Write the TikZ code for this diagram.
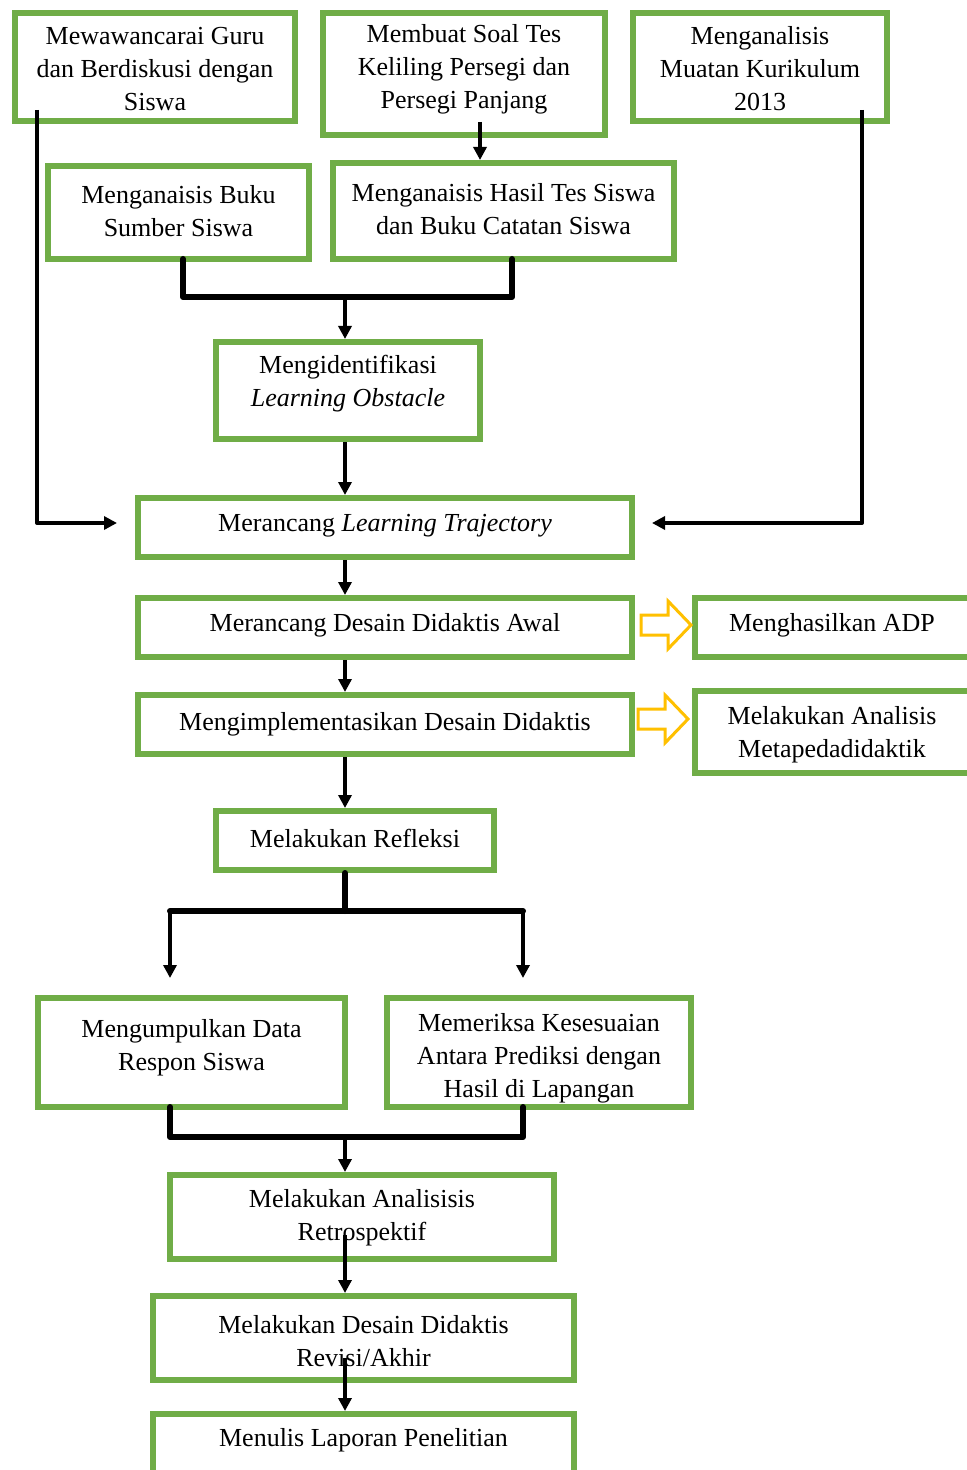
\documentclass[tikz,border=0pt]{standalone}
\usepackage{fontspec}
\setmainfont{Liberation Serif}
\usetikzlibrary{arrows.meta,calc}
\definecolor{boxgreen}{HTML}{70AD47}
\definecolor{arrowyellow}{HTML}{FFC000}
\newcommand\yelarrow[1]{\draw[hollow, shift={(#1)}] (0,-10) -- (27,-10) -- (27,-24) -- (50,0) -- (27,24) -- (27,10) -- (0,10) -- cycle;}
\begin{document}
\begin{tikzpicture}[x=0.5pt,y=-0.5pt,
 box/.style={draw=boxgreen, line width=3pt, inner sep=0pt, rectangle},
 txt/.style={align=center, font=\fontsize{13pt}{16.5pt}\selectfont, inner sep=0pt},
 conn/.style={line width=1.75pt, -{Triangle[length=6.5pt,width=6.5pt]}, line join=round},
 merge/.style={line width=3pt, line join=round, line cap=round},
 hollow/.style={draw=arrowyellow, line width=1.5pt, fill=white, line join=miter}]
\fill[white] (0,0) rectangle (967,1470);
\useasboundingbox (0,0) rectangle (967,1470);
\clip (0,0) rectangle (967,1470);

% texts
\node[txt] (At) at (155,69) {Mewawancarai Guru\\dan Berdiskusi dengan\\Siswa};
\node[txt] (Bt) at (464,69) {Membuat Soal Tes\\Keliling Persegi dan\\Persegi Panjang};
\node[txt] (Ct) at (760,69) {Menganalisis\\Muatan Kurikulum\\2013};
\node[txt] (Dt) at (178.5,211) {Menganaisis Buku\\Sumber Siswa};
\node[txt] (Et) at (503.5,209) {Menganaisis Hasil Tes Siswa\\dan Buku Catatan Siswa};
\node[txt] (Ft) at (348,384) {Mengidentifikasi\\\textit{Learning Obstacle}};
\node[txt] (Gt) at (385,526) {Merancang \textit{Learning Trajectory}};
\node[txt] (Ht) at (385,625) {Merancang Desain Didaktis Awal};
\node[txt] (It) at (832,625) {Menghasilkan ADP};
\node[txt] (Jt) at (385,724) {Mengimplementasikan Desain Didaktis};
\node[txt] (Kt) at (832,735) {Melakukan Analisis\\Metapedadidaktik};
\node[txt] (Lt) at (355,838) {Melakukan Refleksi};
\node[txt] (Mt) at (191.5,1048) {Mengumpulkan Data\\Respon Siswa};
\node[txt] (Nt) at (539,1058) {Memeriksa Kesesuaian\\Antara Prediksi dengan\\Hasil di Lapangan};
\node[txt] (Ot) at (362,1218) {Melakukan Analisisis\\Retrospektif};
\node[txt] (Pt) at (363.5,1341) {Melakukan Desain Didaktis\\Revisi/Akhir};
\node[txt] (Qt) at (363.5,1440) {Menulis Laporan Penelitian};

% boxes
\node[box, minimum width=140pt, minimum height=54pt] (A) at (155,67) {};
\node[box, minimum width=141pt, minimum height=61pt] (B) at (464,74) {};
\node[box, minimum width=127pt, minimum height=54pt] (C) at (760,67) {};
\node[box, minimum width=130.5pt, minimum height=46.5pt] (D) at (178.5,212.5) {};
\node[box, minimum width=170.5pt, minimum height=48pt] (E) at (503.5,211) {};
\node[box, minimum width=132pt, minimum height=48.5pt] (F) at (348,390.5) {};
\node[box, minimum width=247pt, minimum height=29.5pt] (G) at (385,527.5) {};
\node[box, minimum width=247pt, minimum height=29.5pt] (H) at (385,627.5) {};
\node[box, minimum width=138.5pt, minimum height=29.5pt] (I) at (833.5,627.5) {};
\node[box, minimum width=247pt, minimum height=29.5pt] (J) at (385,724.5) {};
\node[box, minimum width=138.5pt, minimum height=41pt] (K) at (833.5,732) {};
\node[box, minimum width=139pt, minimum height=29.5pt] (L) at (355,840.5) {};
\node[box, minimum width=153.5pt, minimum height=54.5pt] (M) at (191.5,1052.5) {};
\node[box, minimum width=152pt, minimum height=54.5pt] (N) at (539,1052.5) {};
\node[box, minimum width=192pt, minimum height=42pt] (O) at (362,1217) {};
\node[box, minimum width=210.5pt, minimum height=42pt] (P) at (363.5,1338) {};
\node[box, minimum width=210.5pt, minimum height=31.5pt] (Q) at (363.5,1445.5) {};

% helper coordinates
\coordinate (sx) at (345,300);
\coordinate (a1) at (37,110);
\coordinate (ga) at (117,523);
\coordinate (c1) at (862,110);
\coordinate (gc) at (652,523);
\coordinate (b1) at (480,122);
\coordinate (d1) at (183,259);
\coordinate (e1) at (512,259);
\coordinate (m1) at (345,297);
\coordinate (s1) at (345,911);
\coordinate (sl) at (170,911);
\coordinate (sr) at (523,911);
\coordinate (tl) at (170,978);
\coordinate (tr) at (523,978);
\coordinate (ml) at (170,1107);
\coordinate (nr) at (523,1107);
\coordinate (m2) at (345,1137);
\coordinate (o1) at (345,1235);
\coordinate (p1) at (345,1358);
\coordinate (y1) at (641,625);
\coordinate (y2) at (638,719);

% connectors
\draw[conn, line width=2pt] (a1) |- (ga);
\draw[conn, line width=2pt] (c1) |- (gc);
\draw[conn] (b1) -- (b1 |- E.north);
\draw[merge] (d1) |- (m1) -| (e1);
\draw[conn] (m1) -- (m1 |- F.north);
\draw[conn] (sx |- F.south) -- (sx |- G.north);
\draw[conn] (sx |- G.south) -- (sx |- H.north);
\draw[conn] (sx |- H.south) -- (sx |- J.north);
\draw[conn] (sx |- J.south) -- (sx |- L.north);
\draw[merge] (sx |- L.south) -- (s1);
\draw[merge] (sl) -- (sr);
\draw[conn] (sl) -- (tl);
\draw[conn] (sr) -- (tr);
\draw[merge] (ml) |- (m2) -| (nr);
\draw[conn] (m2) -- (m2 |- O.north);
\draw[conn] (o1) -- (o1 |- P.north);
\draw[conn] (p1) -- (p1 |- Q.north);

% hollow arrows
\yelarrow{y1}
\yelarrow{y2}
\end{tikzpicture}
\end{document}
